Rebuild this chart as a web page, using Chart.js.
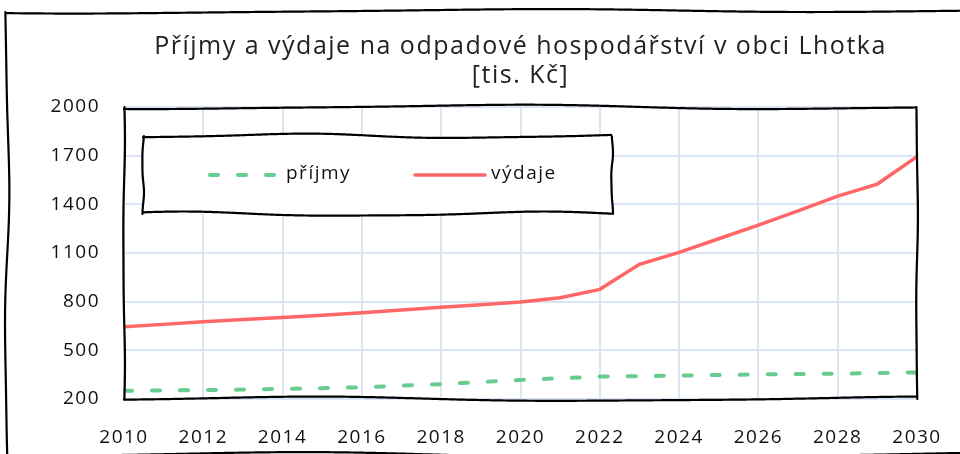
<!DOCTYPE html>
<html>
<head>
<meta charset="utf-8">
<script src="https://cdn.jsdelivr.net/npm/chart.js@4"></script>
<style>
  html, body { margin: 0; background: #fff; }
  #wrap { width: 960px; height: 454px; }
</style>
</head>
<body>
<div id="wrap"><canvas id="chart"></canvas></div>
<script>
const years = [2010, 2011, 2012, 2013, 2014, 2015, 2016, 2017, 2018, 2019, 2020,
               2021, 2022, 2023, 2024, 2025, 2026, 2027, 2028, 2029, 2030];
const prijmy = [251, 253, 255, 258, 262, 267, 272, 282, 292, 305, 317,
                328, 338, 341, 344, 348, 352, 354, 356, 360, 364];
const vydaje = [645, 660, 676, 690, 703, 717, 732, 748, 765, 781, 798,
                824, 876, 1030, 1104, 1188, 1272, 1360, 1451, 1525, 1694];
const yTicks = [200, 500, 800, 1100, 1400, 1700, 2000];
const xTicks = [2010, 2012, 2014, 2016, 2018, 2020, 2022, 2024, 2026, 2028, 2030];
const titleLines = ['Příjmy a výdaje na odpadové hospodářství v obci Lhotka', '[tis. Kč]'];

const FONT = "'Open Sans', 'Noto Sans', sans-serif";
const GREEN = '#66cc8f';
const RED = '#ff6666';

// hand-drawn looking line between two points
function wavy(ctx, x1, y1, x2, y2, amp, seed) {
  const len = Math.hypot(x2 - x1, y2 - y1);
  const nx = -(y2 - y1) / len, ny = (x2 - x1) / len;
  ctx.beginPath();
  for (let i = 0; i <= len; i += 2) {
    const t = i / len;
    const off = amp * (Math.sin(t * Math.PI * 2.6 + seed) * 0.8 +
                       Math.sin(t * Math.PI * 5.2 + seed * 2.3) * 0.2);
    const x = x1 + (x2 - x1) * t + nx * off;
    const y = y1 + (y2 - y1) * t + ny * off;
    if (i === 0) ctx.moveTo(x, y); else ctx.lineTo(x, y);
  }
  ctx.stroke();
}

function wavyBox(ctx, l, t, r, b, amp, seed) {
  wavy(ctx, l, t, r, t, amp, seed);
  wavy(ctx, r, t, r, b, amp * 0.4, seed + 1);
  wavy(ctx, l, b, r, b, amp, seed + 2);
  wavy(ctx, l, t, l, b, amp * 0.4, seed + 3);
}

const sketchPlugin = {
  id: 'sketch',
  beforeDraw(chart) {
    chart.ctx.letterSpacing = '1.5px';
  },
  afterDraw(chart) {
    const ctx = chart.ctx;
    const a = chart.chartArea;
    ctx.save();
    ctx.strokeStyle = '#000';
    ctx.lineWidth = 2.2;
    ctx.lineCap = 'round';
    // outer frame
    wavy(ctx, 7, 12, 965, 10, 2, 0.5);
    wavy(ctx, 7, 12, 7, 460, 2.5, 1.7);
    wavy(ctx, 7, 455, 965, 455, 3, 2.4);
    // plot frame
    wavyBox(ctx, a.left, a.top, a.right, a.bottom, 2.5, 0.9);

    // legend box
    const lx = 143, ly = 136, lr = 612, lb = 214;
    ctx.fillStyle = '#fff';
    ctx.fillRect(lx, ly, lr - lx, lb - ly);
    wavyBox(ctx, lx, ly, lr, lb, 2.5, 2.1);
    const items = [{ x: 210 }, { x: 415 }];
    chart.data.datasets.forEach((ds, i) => {
      const ix = items[i].x, iy = 175;
      ctx.strokeStyle = ds.borderColor;
      ctx.lineWidth = ds.borderWidth;
      ctx.lineCap = 'round';
      ctx.setLineDash(ds.borderDash || []);
      ctx.beginPath();
      ctx.moveTo(ix, iy);
      ctx.lineTo(ix + 70, iy);
      ctx.stroke();
      ctx.setLineDash([]);
      ctx.fillStyle = '#111';
      ctx.font = '19px ' + FONT;
      ctx.textBaseline = 'middle';
      ctx.textAlign = 'left';
      ctx.fillText(ds.label, ix + 76, iy - 1);
    });
    ctx.restore();
  }
};

new Chart(document.getElementById('chart'), {
  type: 'line',
  data: {
    datasets: [
      {
        label: 'příjmy',
        data: years.map((y, i) => ({ x: y, y: prijmy[i] })),
        borderColor: GREEN,
        borderWidth: 4,
        borderDash: [8, 20],
        borderCapStyle: 'round',
        pointRadius: 0,
        tension: 0
      },
      {
        label: 'výdaje',
        data: years.map((y, i) => ({ x: y, y: vydaje[i] })),
        borderColor: RED,
        borderWidth: 3.5,
        pointRadius: 0,
        tension: 0
      }
    ]
  },
  options: {
    responsive: true,
    maintainAspectRatio: false,
    animation: false,
    layout: { padding: { left: 0, right: 43, top: 0, bottom: 0 } },
    plugins: {
      legend: { display: false },
      tooltip: { enabled: false },
      title: {
        display: true,
        text: titleLines,
        fullSize: false,
        color: '#222',
        font: { family: FONT, size: 25, weight: 'normal', lineHeight: 1.16 },
        padding: { top: 32, bottom: 17 }
      }
    },
    scales: {
      x: {
        type: 'linear',
        min: 2010,
        max: 2030,
        afterFit: s => {
          s.height = 55;
          s.paddingLeft = 0;
          s.paddingRight = 0;
        },
        afterBuildTicks: s => { s.ticks = xTicks.map(v => ({ value: v })); },
        ticks: {
          callback: v => String(v),
          color: '#111',
          font: { family: FONT, size: 19 },
          padding: 27,
          maxRotation: 0
        },
        grid: { color: '#dce5f4', lineWidth: 2, drawTicks: false },
        border: { display: false }
      },
      y: {
        min: 200,
        max: 2000,
        afterFit: s => {
          s.width = 124;
          s.paddingTop = 0;
          s.paddingBottom = 0;
        },
        afterBuildTicks: s => { s.ticks = yTicks.map(v => ({ value: v })); },
        ticks: {
          callback: v => String(v),
          color: '#111',
          font: { family: FONT, size: 19 },
          padding: 24
        },
        grid: { color: '#dce5f4', lineWidth: 2, drawTicks: false },
        border: { display: false }
      }
    }
  },
  plugins: [sketchPlugin]
});
</script>
</body>
</html>
